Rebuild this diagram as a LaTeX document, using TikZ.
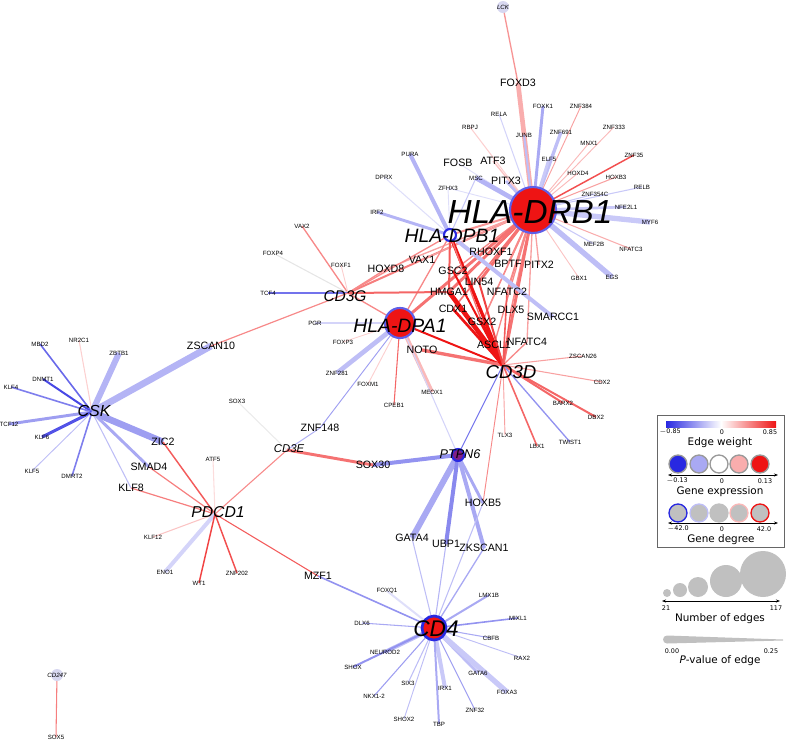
\documentclass[tikz,border=0pt]{standalone}
\usepackage{fontspec}
\setmainfont{Liberation Sans}
\newfontfamily\legfont{DejaVu Sans}
\usetikzlibrary{positioning,arrows.meta}
\definecolor{eblue}{RGB}{40,40,225}
\definecolor{ered}{RGB}{238,20,20}
\definecolor{lgrey}{RGB}{192,192,192}
\definecolor{lav}{RGB}{215,215,240}
\pgfdeclarelayer{background}
\pgfsetlayers{background,main}
\begin{document}
\begin{tikzpicture}[x=0.75pt,y=-0.75pt,
        sg/.style={font=\fontsize{4.6}{5}\selectfont,inner sep=0pt},
        mg/.style={font=\fontsize{8}{9}\selectfont,inner sep=0pt},
        hubl/.style={font=\itshape,inner sep=0pt},
        hubc/.style={circle,inner sep=0pt,line width=1.6pt,draw=eblue!75},
        pt/.style={inner sep=0pt,minimum size=0pt},
        lt/.style={font=\legfont\fontsize{7.8}{9}\selectfont,inner sep=0pt},
        ln/.style={font=\legfont\fontsize{4.8}{5}\selectfont,inner sep=0pt},
        lc/.style={circle,minimum size=13.5pt,inner sep=0pt,line width=1pt},
    ]
    \useasboundingbox (0,0) rectangle (790,740);

    % hub circles
    \node[hubc,minimum size=34.5pt,fill=ered] (DRB) at (533,210) {};
    \node[hubc,minimum size=9pt,fill=white,draw=eblue] (DPB) at (450,235) {};
    \node[hubc,minimum size=22.5pt,fill=ered] (DPA) at (400,323) {};
    \node[hubc,minimum size=9pt,fill=eblue!55!ered,draw=eblue] (PTPN6) at (458,455) {};
    \node[hubc,minimum size=18pt,fill=ered,draw=eblue,line width=2pt] (CD4) at (434,628) {};
    \node[circle,minimum size=9pt,inner sep=0pt,fill=lav] (LCK) at (503,7) {};
    \node[circle,minimum size=9pt,inner sep=0pt,fill=lav] (CD247) at (57,675) {};
    \node[pt] (CD3G) at (348,293) {};
    \node[pt] (CD3D) at (503,365) {};
    \node[pt] (CSK) at (92,412) {};
    \node[pt] (PDCD1) at (215,514) {};
    \node[pt] (CD3E) at (287,450) {};

    % hub labels
    \node[hubl,font=\itshape\fontsize{25}{26}\selectfont] (DRBl) at (530,212) {HLA-DRB1};
    \node[hubl,font=\itshape\fontsize{14.5}{15}\selectfont] (DPBl) at (452,236) {HLA-DPB1};
    \node[hubl,font=\itshape\fontsize{14.5}{15}\selectfont] (DPAl) at (400,326) {HLA-DPA1};
    \node[hubl,font=\itshape\fontsize{14}{15}\selectfont] (CD3Dl) at (511,372) {CD3D};
    \node[hubl,font=\itshape\fontsize{11.6}{12}\selectfont] (CD3Gl) at (345,296) {CD3G};
    \node[hubl,font=\itshape\fontsize{12}{13}\selectfont] (CSKl) at (94,411) {CSK};
    \node[hubl,font=\itshape\fontsize{11.8}{12}\selectfont] (PDCD1l) at (218,512) {PDCD1};
    \node[hubl,font=\itshape\fontsize{17}{18}\selectfont] (CD4l) at (436,629) {CD4};
    \node[hubl,font=\itshape\fontsize{9.5}{10}\selectfont] (PTPN6l) at (460,454) {PTPN6};
    \node[hubl,font=\itshape\fontsize{8.5}{9}\selectfont] (CD3El) at (289,449) {CD3E};
    \node[hubl,font=\itshape\fontsize{4.6}{5}\selectfont] (LCKl) at (503,7) {LCK};
    \node[hubl,font=\itshape\fontsize{4.6}{5}\selectfont] (CD247l) at (57,675) {CD247};

    % medium genes
    \node[mg] (FOXD3) at (518,83) {FOXD3};
    \node[mg] (FOSB) at (458,163) {FOSB};
    \node[mg] (ATF3) at (493,161) {ATF3};
    \node[mg] (PITX3) at (506,181) {PITX3};
    \node[mg] (RHOXF1) at (491,252) {RHOXF1};
    \node[mg] (VAX1) at (422,260) {VAX1};
    \node[mg] (HOXD8) at (386,269) {HOXD8};
    \node[mg] (GSC2) at (453,271) {GSC2};
    \node[mg] (BPTF) at (508,264) {BPTF};
    \node[mg] (PITX2) at (539,265) {PITX2};
    \node[mg] (LIN54) at (479,282) {LIN54};
    \node[mg] (HMGA1) at (449,292) {HMGA1};
    \node[mg] (NFATC2) at (507,292) {NFATC2};
    \node[mg] (CDX1) at (453,309) {CDX1};
    \node[mg] (DLX5) at (511,310) {DLX5};
    \node[mg] (SMARCC1) at (553,317) {SMARCC1};
    \node[mg] (GSX2) at (482,322) {GSX2};
    \node[mg] (NOTO) at (422,350) {NOTO};
    \node[mg] (ASCL1) at (494,345) {ASCL1};
    \node[mg] (NFATC4) at (527,342) {NFATC4};
    \node[mg] (ZSCAN10) at (211,346) {ZSCAN10};
    \node[mg] (ZNF148) at (320,428) {ZNF148};
    \node[mg] (ZIC2) at (163,442) {ZIC2};
    \node[mg] (SMAD4) at (149,467) {SMAD4};
    \node[mg] (KLF8) at (131,488) {KLF8};
    \node[mg] (SOX30) at (373,465) {SOX30};
    \node[mg] (HOXB5) at (483,503) {HOXB5};
    \node[mg] (GATA4) at (412,538) {GATA4};
    \node[mg] (UBP1) at (446,544) {UBP1};
    \node[mg] (ZKSCAN1) at (484,548) {ZKSCAN1};
    \node[mg] (MZF1) at (318,576) {MZF1};

    % small genes
    \node[sg] (FOXK1) at (543,106) {FOXK1};
    \node[sg] (ZNF384) at (581,106) {ZNF384};
    \node[sg] (RELA) at (499,114) {RELA};
    \node[sg] (RBPJ) at (470,127) {RBPJ};
    \node[sg] (JUNB) at (524,135) {JUNB};
    \node[sg] (ZNF691) at (561,132) {ZNF691};
    \node[sg] (ZNF333) at (614,127) {ZNF333};
    \node[sg] (MNX1) at (589,143) {MNX1};
    \node[sg] (PURA) at (410,154) {PURA};
    \node[sg] (ZNF35) at (634,155) {ZNF35};
    \node[sg] (ELF5) at (549,159) {ELF5};
    \node[sg] (HOXD4) at (578,173) {HOXD4};
    \node[sg] (DPRX) at (384,177) {DPRX};
    \node[sg] (MSC) at (476,178) {MSC};
    \node[sg] (HOXB3) at (616,177) {HOXB3};
    \node[sg] (ZFHX3) at (448,188) {ZFHX3};
    \node[sg] (RELB) at (642,187) {RELB};
    \node[sg] (ZNF354C) at (595,194) {ZNF354C};
    \node[sg] (NFE2L1) at (626,207) {NFE2L1};
    \node[sg] (IRF2) at (377,212) {IRF2};
    \node[sg] (MYF6) at (650,222) {MYF6};
    \node[sg] (VAX2) at (302,226) {VAX2};
    \node[sg] (MEF2B) at (594,244) {MEF2B};
    \node[sg] (NFATC3) at (631,249) {NFATC3};
    \node[sg] (FOXF1) at (341,265) {FOXF1};
    \node[sg] (GBX1) at (579,278) {GBX1};
    \node[sg] (EGS) at (612,277) {EGS};
    \node[sg] (FOXP4) at (273,253) {FOXP4};
    \node[sg] (TCF4) at (268,293) {TCF4};
    \node[sg] (PGR) at (315,323) {PGR};
    \node[sg] (FOXP3) at (343,342) {FOXP3};
    \node[sg] (ZSCAN26) at (583,356) {ZSCAN26};
    \node[sg] (ZNF281) at (337,373) {ZNF281};
    \node[sg] (CDX2) at (602,382) {CDX2};
    \node[sg] (FOXM1) at (368,384) {FOXM1};
    \node[sg] (MEOX1) at (432,392) {MEOX1};
    \node[sg] (CPEB1) at (394,405) {CPEB1};
    \node[sg] (BARX2) at (563,403) {BARX2};
    \node[sg] (DBX2) at (596,417) {DBX2};
    \node[sg] (TLX3) at (505,435) {TLX3};
    \node[sg] (LBX1) at (537,446) {LBX1};
    \node[sg] (TWIST1) at (570,442) {TWIST1};
    \node[sg] (MBD2) at (40,344) {MBD2};
    \node[sg] (NR2C1) at (79,340) {NR2C1};
    \node[sg] (ZBTB1) at (119,353) {ZBTB1};
    \node[sg] (DNMT1) at (43,379) {DNMT1};
    \node[sg] (KLF4) at (11,387) {KLF4};
    \node[sg] (SOX3) at (237,401) {SOX3};
    \node[sg] (TCF12) at (9,424) {TCF12};
    \node[sg] (KLF6) at (42,437) {KLF6};
    \node[sg] (ATF5) at (213,459) {ATF5};
    \node[sg] (KLF5) at (32,471) {KLF5};
    \node[sg] (DMRT2) at (72,476) {DMRT2};
    \node[sg] (KLF12) at (153,537) {KLF12};
    \node[sg] (ENO1) at (165,572) {ENO1};
    \node[sg] (WT1) at (199,583) {WT1};
    \node[sg] (ZNF202) at (237,573) {ZNF202};
    \node[sg] (FOXQ1) at (387,591) {FOXQ1};
    \node[sg] (LMX1B) at (489,595) {LMX1B};
    \node[sg] (MIXL1) at (518,618) {MIXL1};
    \node[sg] (DLX6) at (362,623) {DLX6};
    \node[sg] (CBFB) at (491,638) {CBFB};
    \node[sg] (NEUROD2) at (385,652) {NEUROD2};
    \node[sg] (RAX2) at (522,658) {RAX2};
    \node[sg] (SHOX) at (353,667) {SHOX};
    \node[sg] (GATA6) at (478,673) {GATA6};
    \node[sg] (SIX3) at (408,683) {SIX3};
    \node[sg] (IRX1) at (445,688) {IRX1};
    \node[sg] (FOXA3) at (507,692) {FOXA3};
    \node[sg] (NKX12) at (374,696) {NKX1-2};
    \node[sg] (ZNF32) at (475,710) {ZNF32};
    \node[sg] (SHOX2) at (404,719) {SHOX2};
    \node[sg] (TBP) at (439,724) {TBP};
    \node[sg] (SOX5) at (56,737) {SOX5};

    % edges
    \begin{pgfonlayer}{background}
        \foreach \a/\b/\c/\w in {
            LCK/FOXD3/ered!45/1, FOXD3/DRB/ered!35/3.5, FOXK1/DRB/eblue!40/2.2,
            ZNF384/DRB/ered!40/0.7, RELA/DRB/eblue!20/0.8, RBPJ/DRB/ered!20/0.8,
            JUNB/DRB/eblue!30/1.5, ZNF691/DRB/eblue!30/2.5, ZNF333/DRB/ered!30/0.7,
            MNX1/DRB/ered!30/0.7, ZNF35/DRB/ered!75/1.1, FOSB/DRB/eblue!15/0.7,
            ATF3/DRB/ered!25/1, ELF5/DRB/eblue!25/2.2, HOXD4/DRB/ered!30/0.7,
            MSC/DRB/eblue!35/3.5, HOXB3/DRB/ered!40/0.8, PITX3/DRB/eblue!30/2,
            ZFHX3/DRB/eblue!15/0.7, RELB/DRB/eblue!25/0.8, ZNF354C/DRB/eblue!25/0.8,
            NFE2L1/DRB/eblue!25/2, MYF6/DRB/eblue!25/4, MEF2B/DRB/eblue!25/0.8,
            NFATC3/DRB/ered!35/0.8, GBX1/DRB/ered!25/0.7, EGS/DRB/eblue!30/4,
            RHOXF1/DRB/ered!40/1.2, BPTF/DRB/ered!50/1.5, PITX2/DRB/ered!40/1,
            LIN54/DRB/ered!60/2.2, HMGA1/DRB/ered!60/2.2, NFATC2/DRB/ered!50/1.5,
            CDX1/DRB/ered!60/1.2, DLX5/DRB/ered!50/1.2, GSC2/DRB/ered!50/1,
            GSX2/DRB/ered!50/1.2, CD3G/DRB/ered!55/1.5, DPA/DRB/ered!60/2.2,
            CD3D/DRB/ered!60/2.2, ASCL1/DRB/ered!50/1, NFATC4/DRB/ered!40/1,
            HOXD8/DRB/ered!40/1, VAX1/DRB/ered!40/1, DPB/DRB/ered!45/1.5,
            PURA/DPB/eblue!35/3, DPRX/DPB/eblue!15/0.8, IRF2/DPB/eblue!35/2.2,
            ZFHX3/DPB/eblue!15/0.7, MSC/DPB/eblue!25/0.8, DPB/CD3D/ered/2.5,
            DPB/DPA/ered!50/1, DPB/CD3G/ered!50/1, DPB/SMARCC1/eblue!30/3,
            DPB/HMGA1/ered!70/1.5, DPB/GSX2/ered!60/1,
            PGR/DPA/eblue!20/0.8, FOXP3/DPA/ered!20/0.7, ZNF281/DPA/eblue!30/3.5,
            FOXM1/DPA/ered!20/0.7, CPEB1/DPA/ered!65/0.8, MEOX1/DPA/ered!30/3,
            CD3G/DPA/ered!50/1, ZNF148/DPA/eblue!45/0.7, DPA/CD3D/ered/1.5,
            VAX2/CD3G/ered!50/1, FOXP4/CD3G/black!10/0.8, FOXF1/CD3G/ered!20/0.7,
            TCF4/CD3G/eblue!65/0.8, ZSCAN10/CD3G/ered!50/0.9, HOXD8/CD3G/ered!50/1,
            HMGA1/CD3G/ered!65/1.5,
            NOTO/CD3D/ered!60/2.5, ASCL1/CD3D/ered/1.5, NFATC4/CD3D/ered!50/1,
            ZSCAN26/CD3D/ered!40/0.8, CDX2/CD3D/ered!40/0.8, BARX2/CD3D/ered!65/1.5,
            DBX2/CD3D/ered!65/1.5, TWIST1/CD3D/eblue!50/1, LBX1/CD3D/ered!65/1.2,
            TLX3/CD3D/ered!40/0.7, PTPN6/CD3D/eblue!65/0.8, HOXB5/CD3D/ered!50/0.7,
            GSX2/CD3D/ered/2, CDX1/CD3D/ered/2, HMGA1/CD3D/ered/3.5,
            GSC2/CD3D/ered/1.5, LIN54/CD3D/ered!80/1.5, DLX5/CD3D/ered!70/1,
            NFATC2/CD3D/ered!70/1.2,
            SOX30/PTPN6/eblue!50/3, GATA4/PTPN6/eblue!40/4.5, UBP1/PTPN6/eblue!55/3,
            ZKSCAN1/PTPN6/eblue!40/3, HOXB5/PTPN6/eblue!40/2.2, DPA/PTPN6/eblue!20/0.8,
            GATA4/CD4/eblue!30/0.8, UBP1/CD4/eblue!35/0.8, ZKSCAN1/CD4/eblue!40/1,
            HOXB5/CD4/eblue!30/0.8, MZF1/CD4/eblue!50/1.2, FOXQ1/CD4/eblue!15/1.5,
            LMX1B/CD4/eblue!40/1.5, DLX6/CD4/eblue!40/0.8, MIXL1/CD4/eblue!50/1.2,
            CBFB/CD4/eblue!40/0.8, RAX2/CD4/eblue!30/0.7, NEUROD2/CD4/eblue!30/3,
            SHOX/CD4/eblue!50/1.5, GATA6/CD4/eblue!30/2.2, FOXA3/CD4/eblue!25/4,
            SIX3/CD4/eblue!30/0.8, IRX1/CD4/eblue!25/3, NKX12/CD4/eblue!45/0.8,
            ZNF32/CD4/eblue!45/0.8, SHOX2/CD4/eblue!30/0.7, TBP/CD4/eblue!40/1.5,
            MBD2/CSK/eblue!70/1.2, NR2C1/CSK/ered!20/0.8, ZBTB1/CSK/eblue!35/4.5,
            ZSCAN10/CSK/eblue!35/5, DNMT1/CSK/eblue!85/1.5, KLF4/CSK/eblue!60/1.2,
            TCF12/CSK/eblue!45/2.2, KLF6/CSK/eblue!80/2.2, KLF5/CSK/eblue!30/0.7,
            DMRT2/CSK/eblue!60/1.2, ZIC2/CSK/eblue!45/5, SMAD4/CSK/eblue!40/2.2,
            KLF8/CSK/eblue!30/0.8,
            ZIC2/PDCD1/ered!70/1.1, SMAD4/PDCD1/ered!55/0.9, KLF8/PDCD1/ered!55/0.9,
            ATF5/PDCD1/ered!15/0.8, KLF12/PDCD1/ered!25/0.8, ENO1/PDCD1/eblue!20/3,
            WT1/PDCD1/ered!80/1.1, ZNF202/PDCD1/ered!75/1.1, MZF1/PDCD1/ered!70/0.8,
            CD3E/PDCD1/ered!50/0.8,
            SOX3/CD3E/black!8/0.8, ZNF148/CD3E/eblue!35/0.8, SOX30/CD3E/ered!60/2.2,
            CD247/SOX5/ered!55/0.8}
            \draw[\c,line width=\w pt] (\a.center) -- (\b.center);
    \end{pgfonlayer}

    % legend
    \draw[black!60,line width=0.6pt] (657,415) rectangle (784,547);
    \shade[left color=eblue,right color=ered,middle color=white] (666,421) rectangle (776,427);
    \node[ln] (ew1) at (670,432) {$-$0.85};
    \node[ln] (ew2) at (722,432) {0};
    \node[ln] (ew3) at (770,432) {0.85};
    \node[lt] (ewl) at (720,443) {Edge weight};
    \foreach \x/\f in {678/eblue,699/eblue!40,719/white,739/ered!35,760/ered}
        \node[lc,fill=\f,draw=black!40] at (\x,464) {};
    \draw[{Stealth[length=3pt]}-{Stealth[length=3pt]},line width=0.6pt] (668,475) -- (778,475);
    \node[ln] (ge1) at (677,481) {$-$0.13};
    \node[ln] (ge2) at (722,481) {0};
    \node[ln] (ge3) at (765,481) {0.13};
    \node[lt] (gel) at (720,492) {Gene expression};
    \foreach \x/\d in {678/eblue,699/eblue!30,719/lgrey,739/ered!30,760/ered}
        \node[lc,fill=lgrey,draw=\d] at (\x,513) {};
    \draw[{Stealth[length=3pt]}-{Stealth[length=3pt]},line width=0.6pt] (668,523) -- (778,523);
    \node[ln] (gd1) at (678,529) {$-$42.0};
    \node[ln] (gd2) at (722,529) {0};
    \node[ln] (gd3) at (764,529) {42.0};
    \node[lt] (gdl) at (721,540) {Gene degree};
    \foreach \x/\r in {667/4,680/7,698/10,726/16,763/23}
        \fill[lgrey] (\x,597-\r) circle[radius=0.75*\r pt];
    \draw[{Stealth[length=3pt]}-{Stealth[length=3pt]},line width=0.6pt] (662,601) -- (780,601);
    \node[ln] (ne1) at (666,608) {21};
    \node[ln] (ne2) at (776,608) {117};
    \node[lt] (nel) at (720,619) {Number of edges};
    \fill[lgrey] (667,635.5) -- (783,639.5) -- (783,640.5) -- (667,643.5) arc[start angle=270,end angle=90,radius=3pt] -- cycle;
    \node[ln] (pv1) at (672,651) {0.00};
    \node[ln] (pv2) at (771,651) {0.25};
    \node[lt] (pvl) at (720,661) {\textit{P}-value of edge};
\end{tikzpicture}
\end{document}
